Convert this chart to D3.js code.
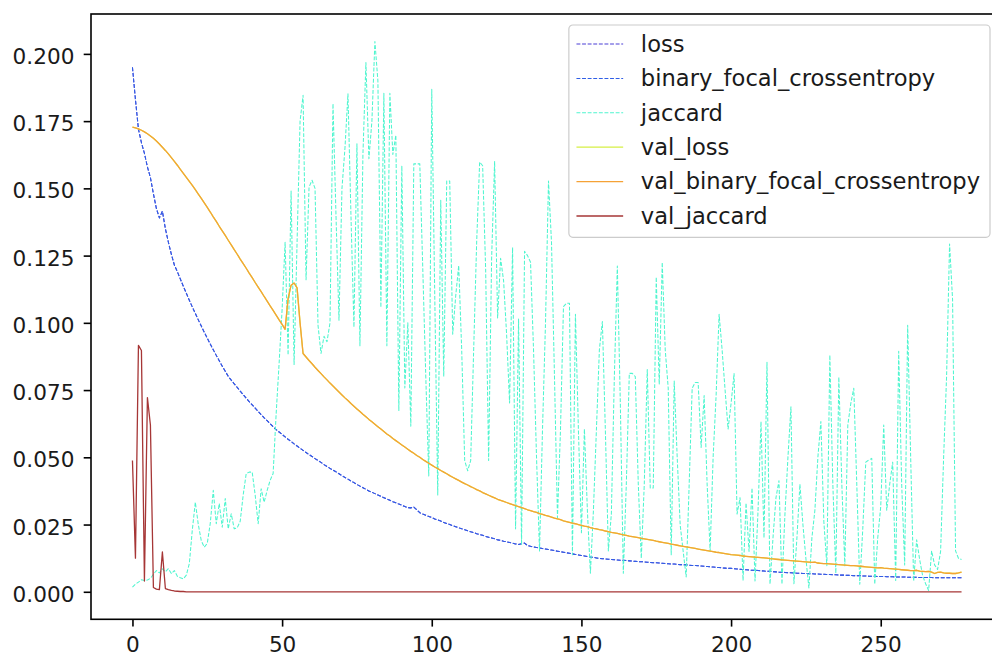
<!DOCTYPE html>
<html>
<head>
<meta charset="utf-8">
<script src="https://cdn.jsdelivr.net/npm/d3@7"></script>
<style>
    body { margin: 0; background: #ffffff; }
    #history-chart { width: 992px; height: 657px; overflow: hidden; }
    text { font-family: "DejaVu Sans", sans-serif; fill: #1a1a1a; }
</style>
</head>
<body>
<div id="history-chart"></div>
<script>
// ---- values, one per epoch (0..277) ----
const seriesNames = ["loss", "binary_focal_crossentropy", "jaccard",
                     "val_loss", "val_binary_focal_crossentropy", "val_jaccard"];
const xTickValues = [0, 50, 100, 150, 200, 250];
const yTickValues = [0, 0.025, 0.05, 0.075, 0.1, 0.125, 0.15, 0.175, 0.2];

const loss = [
    .195, .183, .172, .167, .163, .158, .154, .148, .1425, .139,
    .1415, .135, .130, .1255, .1215, .1190, .1163, .1136, .1110, .1084,
    .1059, .1035, .1011, .0988, .0965, .0943, .0921, .0900, .0879, .0859,
    .0839, .0820, .0801, .0787, .0773, .0760, .0746, .0733, .0720, .0707,
    .0695, .0683, .0671, .0659, .0647, .0636, .0625, .0614, .0603, .0594,
    .0585, .0576, .0567, .0559, .0550, .0542, .0534, .0526, .0518, .0510,
    .0503, .0495, .0488, .0481, .0473, .0466, .0459, .0452, .0446, .0439,
    .0432, .0425, .0419, .0412, .0406, .0399, .0393, .0387, .0381, .0375,
    .0370, .0365, .0360, .0355, .0350, .0345, .0340, .0335, .0331, .0326,
    .0322, .0317, .0313, .0312, .0315, .0305, .0294, .0289, .0285, .0280,
    .0276, .0271, .0267, .0263, .0258, .0254, .0250, .0246, .0242, .0238,
    .0234, .0231, .0227, .0223, .0220, .0216, .0213, .0210, .0206, .0203,
    .0200, .0197, .0193, .0191, .0188, .0186, .0183, .0181, .0178, .0176,
    .0179, .0181, .0172, .0169, .0167, .0165, .0163, .0161, .0159, .0157,
    .0155, .0153, .0151, .0149, .0147, .0145, .0143, .0141, .0139, .0137,
    .0135, .0133, .0131, .0129, .0128, .0126, .0124, .0123, .0122, .0121,
    .0120, .0119, .0118, .0117, .0117, .0116, .0115, .0114, .0113, .0112,
    .0112, .0111, .0110, .0109, .0108, .0108, .0107, .0106, .0105, .0104,
    .0103, .0103, .0102, .0101, .0100, .0100, .0099, .0098, .0098, .0097,
    .0096, .0095, .0094, .0093, .0092, .0091, .0090, .0089, .0088, .0087,
    .0087, .0086, .0085, .0084, .0083, .0082, .0081, .0080, .0080, .0079,
    .0078, .0077, .0076, .0076, .0075, .0074, .0073, .0073, .0072, .0071,
    .0071, .0070, .0069, .0069, .0068, .0068, .0067, .0067, .0066, .0066,
    .0065, .0065, .0064, .0064, .0063, .0063, .0062, .0062, .0062, .0061,
    .0061, .0060, .0060, .0060, .0059, .0059, .0058, .0058, .0058, .0057,
    .0057, .0057, .0056, .0056, .0056, .0055, .0055, .0055, .0055, .0054,
    .0054, .0054, .0054, .0053, .0053, .0053, .0053, .0053, .0052, .0052,
    .0052, .0052, .0052, .0052, .0052, .0052, .0052, .0052
];
// the focal loss is the training loss, so both curves coincide
const binaryFocal = loss.slice();

const jaccard = [
    .0017, .0028, .0036, .0045, .0042, .0044, .0050, .0065, .0079, .0070,
    .0085, .0074, .0086, .0068, .0079, .0058, .0052, .0048, .0062, .0105,
    .0230, .0333, .0250, .0190, .0166, .0180, .0255, .0377, .0253, .0328,
    .0240, .0347, .0234, .0290, .0234, .0238, .0262, .0360, .0439, .0445,
    .0445, .0360, .0253, .0383, .0333, .0377, .0414, .0440, .0660, .0850,
    .1050, .1300, .0880, .1490, .0845, .1300, .1750, .1846, .1160, .1505,
    .1530, .1500, .0990, .0886, .0950, .0930, .1000, .1815, .1400, .1010,
    .1500, .1650, .1852, .1400, .0984, .1666, .0915, .1626, .1968, .1610,
    .1750, .2046, .1900, .1057, .1854, .0915, .1854, .1626, .1698, .0674,
    .1584, .0758, .1000, .0616, .1591, .1591, .1591, .1200, .0800, .0431,
    .1868, .1100, .0360, .1456, .0800, .1527, .1527, .0958, .1100, .1213,
    .0900, .0488, .0450, .0488, .0900, .1300, .1598, .1584, .1200, .0488,
    .1242, .1600, .1018, .1240, .1156, .0958, .0702, .1280, .0234, .1014,
    .0175, .1266, .1250, .1225, .0900, .0500, .0152, .0605, .1000, .1527,
    .1300, .0800, .0276, .0600, .1060, .1073, .1073, .0138, .1032, .0600,
    .0220, .0605, .0300, .0069, .0300, .0600, .0900, .1005, .0600, .0152,
    .0289, .0800, .1211, .0700, .0069, .0400, .0812, .0812, .0800, .0400,
    .0124, .0400, .0826, .0386, .0386, .1170, .0771, .1225, .0900, .0757,
    .0138, .0784, .0500, .0248, .0150, .0055, .0400, .0757, .0778, .0778,
    .0537, .0730, .0400, .0152, .0500, .0730, .1032, .0900, .0750, .0605,
    .0700, .0812, .0289, .0350, .0042, .0330, .0150, .0386, .0040, .0300,
    .0633, .0200, .0853, .0028, .0200, .0350, .0413, .0028, .0289, .0500,
    .0688, .0030, .0200, .0400, .0250, .0124, .0014, .0200, .0303, .0500,
    .0633, .0260, .0097, .0880, .0400, .0069, .0798, .0400, .0097, .0620,
    .0700, .0757, .0400, .0028, .0234, .0482, .0490, .0496, .0028, .0200,
    .0317, .0620, .0303, .0400, .0482, .0042, .0894, .0400, .0100, .0991,
    .0500, .0040, .0193, .0120, .0060, .0030, .0005, .0152, .0100, .0083,
    .0150, .0496, .0800, .1293, .1087, .0152, .0124, .0120
];

const valBinaryFocal = [
    .1728, .1725, .1721, .1716, .1710, .1703, .1695, .1686, .1676, .1665,
    .1653, .1641, .1628, .1614, .1600, .1586, .1571, .1556, .1541, .1526,
    .1511, .1495, .1479, .1463, .1446, .1429, .1412, .1394, .1377, .1359,
    .1342, .1325, .1307, .1290, .1272, .1255, .1237, .1220, .1203, .1185,
    .1168, .1150, .1133, .1116, .1098, .1081, .1063, .1046, .1029, .1011,
    .0994, .0976, .1090, .1140, .1148, .1130, .1000, .0886, .0873, .0860,
    .0848, .0835, .0823, .0811, .0799, .0788, .0776, .0765, .0754, .0743,
    .0732, .0721, .0711, .0700, .0690, .0680, .0670, .0660, .0651, .0641,
    .0632, .0623, .0614, .0605, .0596, .0587, .0579, .0570, .0562, .0554,
    .0546, .0538, .0530, .0522, .0515, .0507, .0500, .0492, .0485, .0478,
    .0471, .0464, .0458, .0451, .0445, .0439, .0432, .0426, .0420, .0414,
    .0408, .0402, .0397, .0391, .0386, .0380, .0375, .0369, .0364, .0359,
    .0354, .0349, .0344, .0340, .0336, .0332, .0328, .0324, .0320, .0317,
    .0313, .0309, .0305, .0302, .0298, .0295, .0291, .0288, .0284, .0281,
    .0278, .0274, .0271, .0268, .0264, .0261, .0258, .0255, .0253, .0250,
    .0247, .0244, .0242, .0239, .0236, .0234, .0231, .0229, .0226, .0224,
    .0221, .0219, .0217, .0214, .0212, .0210, .0207, .0205, .0203, .0201,
    .0199, .0197, .0195, .0193, .0191, .0188, .0186, .0184, .0182, .0180,
    .0177, .0175, .0173, .0171, .0169, .0167, .0165, .0163, .0161, .0159,
    .0157, .0155, .0153, .0151, .0149, .0147, .0146, .0144, .0142, .0140,
    .0138, .0137, .0136, .0135, .0133, .0132, .0131, .0130, .0129, .0128,
    .0127, .0126, .0125, .0123, .0122, .0121, .0120, .0119, .0118, .0117,
    .0116, .0115, .0114, .0113, .0112, .0111, .0110, .0109, .0110, .0107,
    .0106, .0105, .0105, .0104, .0103, .0102, .0101, .0100, .0099, .0098,
    .0097, .0097, .0096, .0095, .0094, .0093, .0092, .0091, .0090, .0089,
    .0090, .0088, .0087, .0086, .0085, .0084, .0083, .0082, .0081, .0080,
    .0079, .0079, .0080, .0077, .0076, .0075, .0076, .0073, .0068, .0072,
    .0073, .0070, .0069, .0069, .0068, .0068, .0070, .0073
];
// val_loss equals the validation focal loss and sits right under it
const valLoss = valBinaryFocal.slice();

const valJaccard = [
    .0488, .0125, .0916, .0897, .0040, .0722, .0620, .0016, .0010, .0008,  //   0
    .0148, .0012, .0008, .0005, .0003, .0002, .0001, .0001, 0, 0,          //  10
    0, 0, 0, 0, 0, 0, 0, 0, 0, 0,   //  20
    0, 0, 0, 0, 0, 0, 0, 0, 0, 0,   //  30
    0, 0, 0, 0, 0, 0, 0, 0, 0, 0,   //  40
    0, 0, 0, 0, 0, 0, 0, 0, 0, 0,   //  50
    0, 0, 0, 0, 0, 0, 0, 0, 0, 0,   //  60
    0, 0, 0, 0, 0, 0, 0, 0, 0, 0,   //  70
    0, 0, 0, 0, 0, 0, 0, 0, 0, 0,   //  80
    0, 0, 0, 0, 0, 0, 0, 0, 0, 0,   //  90
    0, 0, 0, 0, 0, 0, 0, 0, 0, 0,   // 100
    0, 0, 0, 0, 0, 0, 0, 0, 0, 0,   // 110
    0, 0, 0, 0, 0, 0, 0, 0, 0, 0,   // 120
    0, 0, 0, 0, 0, 0, 0, 0, 0, 0,   // 130
    0, 0, 0, 0, 0, 0, 0, 0, 0, 0,   // 140
    0, 0, 0, 0, 0, 0, 0, 0, 0, 0,   // 150
    0, 0, 0, 0, 0, 0, 0, 0, 0, 0,   // 160
    0, 0, 0, 0, 0, 0, 0, 0, 0, 0,   // 170
    0, 0, 0, 0, 0, 0, 0, 0, 0, 0,   // 180
    0, 0, 0, 0, 0, 0, 0, 0, 0, 0,   // 190
    0, 0, 0, 0, 0, 0, 0, 0, 0, 0,   // 200
    0, 0, 0, 0, 0, 0, 0, 0, 0, 0,   // 210
    0, 0, 0, 0, 0, 0, 0, 0, 0, 0,   // 220
    0, 0, 0, 0, 0, 0, 0, 0, 0, 0,   // 230
    0, 0, 0, 0, 0, 0, 0, 0, 0, 0,   // 240
    0, 0, 0, 0, 0, 0, 0, 0, 0, 0,   // 250
    0, 0, 0, 0, 0, 0, 0, 0, 0, 0,   // 260
    0, 0, 0, 0, 0, 0, 0, 0          // 270
];

// line looks, in plot order (same order as the legend)
const lineColors = ["#4b3fd6", "#2f5ee6", "#4ff5cf", "#d6ef45", "#f5a236", "#a63636"];
const lineDashes = ["3.9,1.7", "3.9,1.7", "3.9,1.7", null, null, null];
const lineWidths = [1.05, 1.05, 1.05, 1.3, 1.3, 1.3];


class HistoryChart {
    constructor(parentElement, series) {
        this.parentElement = parentElement;
        this.series = series;
        this.initVis();
    }

    initVis() {
        let vis = this;

        // the axes box runs past the right edge of the picture, as in the original crop
        vis.margin = { top: 14, left: 91 };
        vis.width = 912;
        vis.height = 605.3;

        vis.root = d3.select("#" + vis.parentElement)
            .append("svg")
            .attr("width", 992)
            .attr("height", 657);

        vis.svg = vis.root.append("g")
            .attr("transform", `translate(${vis.margin.left},${vis.margin.top})`);

        vis.svg.append("clipPath")
            .attr("id", "plot-clip")
            .append("rect")
            .attr("width", vis.width)
            .attr("height", vis.height);

        let nEpochs = d3.max(vis.series, s => s.values.length);
        let xPad = (nEpochs - 1) * 0.05;
        vis.xScale = d3.scaleLinear()
            .domain([-xPad, nEpochs - 1 + xPad])
            .range([0, vis.width]);

        let allValues = vis.series.flatMap(s => s.values);
        let yMin = d3.min(allValues), yMax = d3.max(allValues);
        let yPad = (yMax - yMin) * 0.05;
        vis.yScale = d3.scaleLinear()
            .domain([yMin - yPad, yMax + yPad])
            .range([vis.height, 0]);

        vis.lineGroup = vis.svg.append("g")
            .attr("class", "lines")
            .attr("clip-path", "url(#plot-clip)");

        vis.updateVis();
    }

    updateVis() {
        let vis = this;

        let line = d3.line()
            .x((d, i) => vis.xScale(i))
            .y(d => vis.yScale(d));

        vis.lineGroup.selectAll("path")
            .data(vis.series)
            .enter()
            .append("path")
            .attr("class", "metric-line")
            .attr("d", d => line(d.values))
            .attr("fill", "none")
            .attr("stroke", d => d.color)
            .attr("stroke-width", d => d.width)
            .attr("stroke-dasharray", d => d.dash)
            .attr("stroke-linejoin", "round");

        // axes
        let xAxis = d3.axisBottom(vis.xScale)
            .tickValues(xTickValues)
            .tickSize(7.3)
            .tickPadding(10.5)
            .tickFormat(d3.format("d"));

        let yAxis = d3.axisLeft(vis.yScale)
            .tickValues(yTickValues)
            .tickSize(7.3)
            .tickPadding(9.3)
            .tickFormat(d3.format(".3f"));

        let gx = vis.svg.append("g")
            .attr("class", "x-axis")
            .attr("transform", `translate(0,${vis.height})`)
            .call(xAxis);

        let gy = vis.svg.append("g")
            .attr("class", "y-axis")
            .call(yAxis);

        [gx, gy].forEach(g => {
            g.select(".domain").remove();
            g.selectAll(".tick line").attr("stroke", "#000").attr("stroke-width", 1.6);
            g.selectAll(".tick text")
                .style("font-size", "21.6px")
                .style("font-family", "DejaVu Sans, sans-serif")
                .attr("fill", "#1a1a1a");
        });
        gy.selectAll(".tick text").attr("dy", "0.44em");

        // spines
        vis.svg.append("rect")
            .attr("class", "frame")
            .attr("width", vis.width)
            .attr("height", vis.height)
            .attr("fill", "none")
            .attr("stroke", "#000")
            .attr("stroke-width", 1.6);

        // legend, upper right
        let rowGap = 34.4;
        vis.legend = vis.root.append("g").attr("class", "legend");

        let box = vis.legend.append("rect")
            .attr("rx", 4)
            .attr("ry", 4)
            .attr("fill", "#ffffff")
            .attr("fill-opacity", 0.8)
            .attr("stroke", "#cccccc")
            .attr("stroke-width", 1.2);

        let rows = vis.legend.selectAll(".legend-row")
            .data(vis.series)
            .enter()
            .append("g")
            .attr("class", "legend-row")
            .attr("transform", (d, i) => `translate(0,${19 + i * rowGap})`);

        rows.append("line")
            .attr("x1", 7.6)
            .attr("x2", 54.3)
            .attr("stroke", d => d.color)
            .attr("stroke-width", d => d.width)
            .attr("stroke-dasharray", d => d.dash);

        rows.append("text")
            .attr("x", 72)
            .attr("y", 7.8)
            .style("font-size", "22.6px")
            .text(d => d.name);

        let maxText = d3.max(rows.selectAll("text").nodes(), n => n.getComputedTextLength());
        let boxWidth = 72 + maxText + 10;
        let boxHeight = 212.3;
        box.attr("width", boxWidth).attr("height", boxHeight);

        let legendRight = vis.margin.left + vis.width - 13;
        vis.legend.attr("transform", `translate(${legendRight - boxWidth},25)`);
    }
}

let seriesValues = [loss, binaryFocal, jaccard, valLoss, valBinaryFocal, valJaccard];
let series = seriesNames.map((name, i) => ({
    name: name,
    values: seriesValues[i],
    color: lineColors[i],
    dash: lineDashes[i],
    width: lineWidths[i]
}));

new HistoryChart("history-chart", series);
</script>
</body>
</html>
